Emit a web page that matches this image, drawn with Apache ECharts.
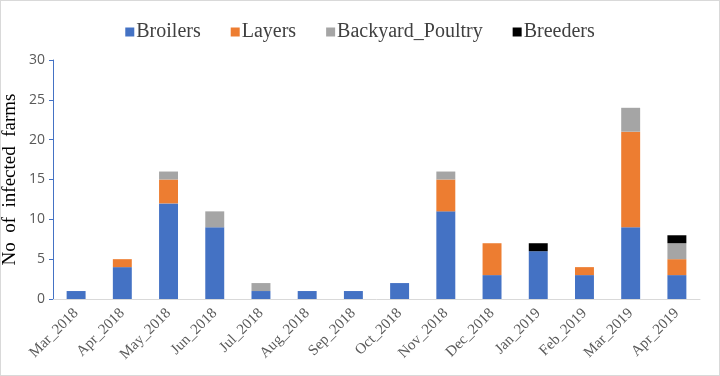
<!DOCTYPE html>
<html>
<head>
<meta charset="utf-8">
<script src="https://cdn.jsdelivr.net/npm/echarts@6/dist/echarts.min.js"></script>
<style>
  html, body { margin: 0; padding: 0; background: #fff; }
  #chart { width: 718px; height: 374px; border: 1px solid #d9d9d9; }
</style>
</head>
<body>
<div id="chart"></div>
<script>
const months = ["Mar_2018", "Apr_2018", "May_2018", "Jun_2018", "Jul_2018", "Aug_2018", "Sep_2018",
  "Oct_2018", "Nov_2018", "Dec_2018", "Jan_2019", "Feb_2019", "Mar_2019", "Apr_2019"];
const broilers = [1, 4, 12, 9, 1, 1, 1, 2, 11, 3, 6, 3, 9, 3];
const layers = [0, 1, 3, 0, 0, 0, 0, 0, 4, 4, 0, 1, 12, 2];
const backyard = [0, 0, 1, 2, 1, 0, 0, 0, 1, 0, 0, 0, 3, 2];
const breeders = [0, 0, 0, 0, 0, 0, 0, 0, 0, 0, 1, 0, 0, 1];

const chart = echarts.init(document.getElementById("chart"));

const bar = (name, data, color) => ({
  name,
  type: "bar",
  stack: "total",
  data,
  color,
  barWidth: "41%",
});

chart.setOption({
  animation: false,
  legend: {
    top: 16,
    left: "center",
    itemWidth: 9,
    itemHeight: 9,
    itemGap: 30,
    icon: "rect",
    textStyle: { fontFamily: "Liberation Serif", fontSize: 20, color: "#404040", padding: [0, 0, 0, -3] },
  },
  grid: { left: 52, right: 19, top: 59, bottom: 76, outerBoundsMode: "none" },
  xAxis: {
    type: "category",
    data: months,
    axisTick: { show: false },
    axisLine: { lineStyle: { color: "#d9d9d9", width: 1 } },
    axisLabel: {
      rotate: 45,
      interval: 0,
      margin: 12,
      fontFamily: "Liberation Serif",
      fontSize: 15,
      color: "#595959",
    },
  },
  yAxis: {
    type: "value",
    min: 0,
    max: 30,
    interval: 5,
    name: "No  of  infected  farms",
    nameLocation: "middle",
    nameGap: 33,
    nameMoveOverlap: false,
    nameTextStyle: { fontFamily: "Liberation Serif", fontSize: 19, color: "#000" },
    splitLine: { show: false },
    axisLine: { show: true, lineStyle: { color: "#4472c4", width: 1 } },
    axisTick: { show: true, length: 4, lineStyle: { color: "#4472c4" } },
    axisLabel: { fontFamily: "Open Sans", fontSize: 14, color: "#595959", margin: 8 },
  },
  series: [
    bar("Broilers", broilers, "#4472c4"),
    bar("Layers", layers, "#ed7d31"),
    bar("Backyard_Poultry", backyard, "#a5a5a5"),
    bar("Breeders", breeders, "#000000"),
  ],
});
</script>
</body>
</html>
